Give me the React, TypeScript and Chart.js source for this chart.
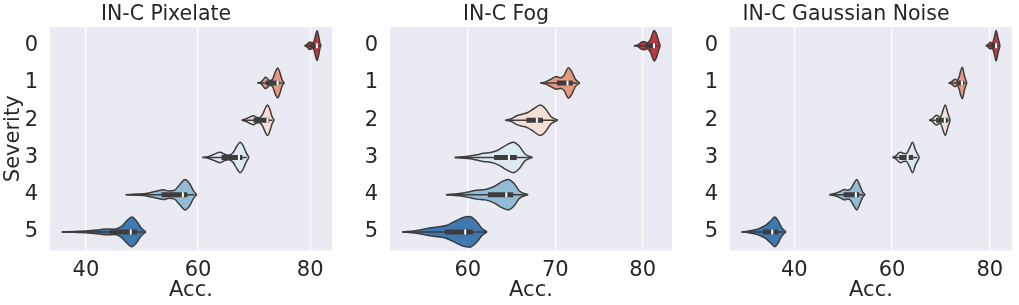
import React, { useEffect, useRef } from "react";
import { Chart, registerables } from "chart.js";

Chart.register(...registerables);

const FONT = "'DejaVu Sans', sans-serif";
const TEXT = "#262626";
const EDGE = "#3d3d3d";
const PANEL_BG = "#EAEAF2";

const SEVERITIES = [0, 1, 2, 3, 4, 5];
const SEVERITY_COLORS = ["#bb3a40", "#e59a7f", "#f7e0d3", "#dde9f0", "#92bcd5", "#3f79b0"];

// Each violin outline: [accuracy, half-width in category units]
type Profile = [number, number][];
// Inner box: [whisker low, Q1, median, Q3, whisker high]
type Box = [number, number, number, number, number];

const PIXELATE_TITLE = "IN-C Pixelate";
const PIXELATE_X_TICKS = [40, 60, 80];
const PIXELATE_X_RANGE = [33.6, 83.9];
const PIXELATE_VIOLINS: Profile[] = [
  [[79.0, 0], [79.4, 0.03], [79.8, 0.09], [80.05, 0.1], [80.35, 0.07], [80.7, 0.12], [81.0, 0.3], [81.25, 0.4], [81.5, 0.27], [81.75, 0.07], [81.95, 0]],
  [[70.6, 0], [71.2, 0.02], [71.6, 0.08], [72.0, 0.15], [72.4, 0.12], [72.8, 0.06], [73.3, 0.1], [73.8, 0.3], [74.2, 0.4], [74.6, 0.28], [75.0, 0.08], [75.4, 0]],
  [[67.8, 0], [68.5, 0.03], [69.3, 0.09], [69.9, 0.12], [70.4, 0.08], [70.9, 0.06], [71.5, 0.15], [72.0, 0.32], [72.4, 0.41], [72.8, 0.3], [73.2, 0.1], [73.6, 0]],
  [[60.8, 0], [61.8, 0.02], [62.8, 0.08], [63.9, 0.14], [64.7, 0.09], [65.4, 0.06], [66.2, 0.12], [67.0, 0.32], [67.5, 0.41], [68.0, 0.33], [68.6, 0.12], [69.1, 0]],
  [[47.1, 0], [49.0, 0.015], [51.0, 0.04], [52.5, 0.09], [53.8, 0.13], [54.8, 0.1], [55.8, 0.12], [56.8, 0.28], [57.7, 0.41], [58.5, 0.3], [59.2, 0.1], [59.8, 0]],
  [[35.7, 0], [38.0, 0.01], [40.5, 0.03], [42.5, 0.06], [43.8, 0.08], [45.0, 0.07], [46.3, 0.14], [47.3, 0.3], [48.2, 0.4], [49.0, 0.3], [49.8, 0.12], [50.7, 0]],
];
const PIXELATE_BOXES: Box[] = [
  [79.3, 80.1, 81.2, 81.4, 81.7],
  [70.9, 72.1, 74.2, 74.5, 75.1],
  [68.1, 69.9, 72.4, 72.7, 73.3],
  [61.2, 64.2, 67.3, 67.9, 68.7],
  [47.5, 53.5, 57.3, 58.1, 59.4],
  [36.0, 44.3, 48.0, 49.1, 50.3],
];

const FOG_TITLE = "IN-C Fog";
const FOG_X_TICKS = [60, 70, 80];
const FOG_X_RANGE = [51.1, 83.35];
const FOG_VIOLINS: Profile[] = [
  [[79.0, 0], [79.5, 0.03], [79.9, 0.1], [80.1, 0.11], [80.5, 0.08], [80.9, 0.18], [81.3, 0.41], [81.6, 0.3], [81.85, 0.1], [82.0, 0]],
  [[68.3, 0], [68.9, 0.03], [69.5, 0.1], [70.1, 0.17], [70.6, 0.14], [71.0, 0.2], [71.5, 0.41], [71.9, 0.3], [72.3, 0.1], [72.8, 0]],
  [[64.3, 0], [65.0, 0.04], [65.6, 0.12], [66.2, 0.16], [66.8, 0.2], [67.5, 0.3], [68.3, 0.41], [68.9, 0.3], [69.5, 0.1], [70.3, 0]],
  [[58.5, 0], [60.0, 0.03], [61.0, 0.07], [61.8, 0.11], [62.6, 0.13], [63.5, 0.2], [64.4, 0.33], [65.2, 0.41], [65.9, 0.3], [66.5, 0.1], [67.4, 0]],
  [[57.5, 0], [59.0, 0.03], [60.2, 0.08], [61.0, 0.12], [62.0, 0.14], [63.0, 0.22], [63.9, 0.35], [64.6, 0.41], [65.3, 0.3], [65.9, 0.1], [66.9, 0]],
  [[52.5, 0], [54.0, 0.03], [55.5, 0.1], [56.5, 0.13], [57.5, 0.17], [58.5, 0.28], [59.4, 0.38], [60.2, 0.41], [61.0, 0.28], [61.6, 0.1], [62.2, 0]],
];
const FOG_BOXES: Box[] = [
  [79.3, 80.3, 81.3, 81.5, 81.8],
  [68.6, 70.2, 71.4, 72.0, 72.5],
  [64.6, 66.7, 67.9, 68.6, 70.0],
  [58.8, 63.0, 64.7, 65.6, 67.1],
  [57.7, 62.3, 64.4, 65.2, 66.6],
  [52.8, 57.4, 59.7, 60.6, 62.0],
];

const GAUSS_TITLE = "IN-C Gaussian Noise";
const GAUSS_X_TICKS = [40, 60, 80];
const GAUSS_X_RANGE = [26.85, 84.55];
const GAUSS_VIOLINS: Profile[] = [
  [[79.2, 0], [79.7, 0.04], [80.1, 0.09], [80.5, 0.07], [80.9, 0.2], [81.3, 0.41], [81.7, 0.2], [82.1, 0]],
  [[71.6, 0], [72.2, 0.03], [72.6, 0.08], [72.9, 0.1], [73.3, 0.07], [73.7, 0.15], [74.1, 0.35], [74.4, 0.42], [74.8, 0.2], [75.3, 0]],
  [[67.6, 0], [68.3, 0.04], [68.8, 0.11], [69.1, 0.13], [69.5, 0.1], [69.9, 0.08], [70.4, 0.25], [70.9, 0.41], [71.4, 0.2], [71.9, 0]],
  [[60.1, 0], [60.8, 0.04], [61.4, 0.12], [61.8, 0.14], [62.3, 0.11], [62.9, 0.1], [63.6, 0.25], [64.2, 0.41], [64.8, 0.2], [65.6, 0]],
  [[47.2, 0], [48.3, 0.03], [49.3, 0.08], [50.0, 0.13], [50.4, 0.14], [50.9, 0.12], [51.5, 0.15], [52.2, 0.3], [52.8, 0.41], [53.4, 0.25], [54.0, 0.07], [54.5, 0]],
  [[29.2, 0], [30.5, 0.02], [31.8, 0.05], [33.0, 0.1], [34.2, 0.18], [35.2, 0.3], [36.0, 0.4], [36.7, 0.3], [37.4, 0.12], [38.3, 0]],
];
const GAUSS_BOXES: Box[] = [
  [79.4, 80.3, 81.3, 81.5, 81.9],
  [71.8, 73.2, 74.3, 74.7, 75.1],
  [67.9, 69.0, 70.8, 71.4, 71.7],
  [60.4, 61.5, 63.2, 64.3, 65.2],
  [47.6, 50.1, 52.6, 53.3, 54.1],
  [29.8, 33.6, 35.5, 36.7, 37.8],
];

const bgPlugin = {
  id: "panelBg",
  beforeDraw(chart: any) {
    const { ctx, chartArea } = chart;
    if (!chartArea) return;
    ctx.save();
    ctx.fillStyle = PANEL_BG;
    ctx.fillRect(chartArea.left, chartArea.top, chartArea.right - chartArea.left, chartArea.bottom - chartArea.top);
    ctx.restore();
  },
};

type PanelProps = {
  title: string;
  violins: Profile[];
  boxes: Box[];
  range: number[];
  xTicks: number[];
  showYTitle: boolean;
  width: number;
};

function Panel({ title, violins, boxes, range, xTicks, showYTitle, width }: PanelProps) {
  const ref = useRef<HTMLCanvasElement>(null);

  useEffect(() => {
    if (!ref.current) return;
    const datasets: any[] = [];
    violins.forEach((profile, i) => {
      const sev = SEVERITIES[i];
      const common = {
        borderColor: EDGE,
        borderWidth: 1.5,
        pointRadius: 0,
        pointHoverRadius: 0,
        cubicInterpolationMode: "monotone",
        order: 3,
      };
      datasets.push({ ...common, data: profile.map(([x, w]) => ({ x, y: sev - w })), fill: false });
      datasets.push({
        ...common,
        data: profile.map(([x, w]) => ({ x, y: sev + w })),
        fill: "-1",
        backgroundColor: SEVERITY_COLORS[i],
      });
    });
    boxes.forEach(([lo, q1, med, q3, hi], i) => {
      const sev = SEVERITIES[i];
      datasets.push({
        data: [{ x: lo, y: sev }, { x: hi, y: sev }],
        borderColor: EDGE,
        borderWidth: 1.5,
        pointRadius: 0,
        fill: false,
        order: 2,
      });
      datasets.push({
        data: [{ x: q1, y: sev }, { x: q3, y: sev }],
        borderColor: EDGE,
        borderWidth: 5,
        borderCapStyle: "butt",
        pointRadius: 0,
        fill: false,
        order: 1,
      });
      datasets.push({
        data: [{ x: med, y: sev }],
        showLine: false,
        pointStyle: "line",
        pointRotation: 90,
        pointRadius: 2.5,
        pointBorderColor: "#ffffff",
        pointBorderWidth: 2,
        fill: false,
        order: 0,
      });
    });

    const chart = new Chart(ref.current, {
      type: "line",
      data: { datasets },
      plugins: [bgPlugin],
      options: {
        animation: false,
        responsive: false,
        maintainAspectRatio: false,
        events: [],
        layout: { padding: { left: 0, right: width - 332, top: 0, bottom: 0 } },
        plugins: {
          legend: { display: false },
          tooltip: { enabled: false },
          title: {
            display: true,
            text: title,
            color: TEXT,
            font: { family: FONT, size: 20.5, weight: "normal" },
            padding: { top: 2, bottom: 0.5 },
          },
        },
        scales: {
          x: {
            type: "linear",
            min: range[0],
            max: range[1],
            afterBuildTicks: (s: any) => {
              s.ticks = xTicks.map((v) => ({ value: v }));
            },
            afterFit: (s: any) => {
              s.height = 54.5;
            },
            ticks: { color: TEXT, font: { family: FONT, size: 21 }, padding: 7.5 },
            grid: { color: "#ffffff", lineWidth: 1.2, drawTicks: false },
            border: { display: false },
            title: {
              display: true,
              text: "Acc.",
              color: TEXT,
              font: { family: FONT, size: 21 },
              padding: { top: 0, bottom: 2 },
            },
          },
          y: {
            type: "linear",
            min: -0.5,
            max: 5.5,
            reverse: true,
            afterBuildTicks: (s: any) => {
              s.ticks = SEVERITIES.map((v) => ({ value: v }));
            },
            afterFit: (s: any) => {
              s.width = 50;
            },
            ticks: { color: TEXT, font: { family: FONT, size: 21 }, padding: 12 },
            grid: { display: false, drawTicks: false },
            border: { display: false },
            title: {
              display: showYTitle,
              text: "Severity",
              color: TEXT,
              font: { family: FONT, size: 21 },
              padding: { top: 0.5, bottom: 0 },
            },
          },
        },
      } as any,
    });
    return () => chart.destroy();
  }, []);

  return <canvas ref={ref} width={width} height={305} style={{ display: "block" }} />;
}

export default function App() {
  return (
    <div style={{ position: "fixed", left: 0, top: 0, width: 1019, height: 305, display: "flex", background: "#ffffff" }}>
      <Panel title={PIXELATE_TITLE} violins={PIXELATE_VIOLINS} boxes={PIXELATE_BOXES} range={PIXELATE_X_RANGE} xTicks={PIXELATE_X_TICKS} showYTitle={true} width={340} />
      <Panel title={FOG_TITLE} violins={FOG_VIOLINS} boxes={FOG_BOXES} range={FOG_X_RANGE} xTicks={FOG_X_TICKS} showYTitle={false} width={340} />
      <Panel title={GAUSS_TITLE} violins={GAUSS_VIOLINS} boxes={GAUSS_BOXES} range={GAUSS_X_RANGE} xTicks={GAUSS_X_TICKS} showYTitle={false} width={339} />
    </div>
  );
}
